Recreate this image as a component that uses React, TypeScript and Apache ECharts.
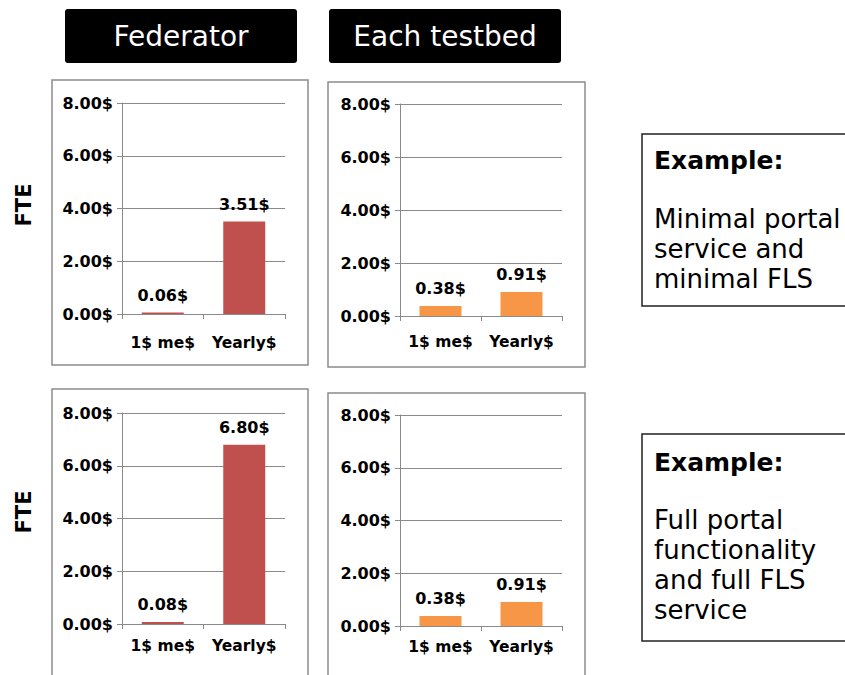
import React, { useEffect, useRef } from "react";
import * as echarts from "echarts";

const categories = ["1$ me$", "Yearly$"];
const federatorMinimal = [0.06, 3.51];
const testbedMinimal = [0.38, 0.91];
const federatorFull = [0.08, 6.8];
const testbedFull = [0.38, 0.91];
const yMin = 0;
const yMax = 8;
const yInterval = 2;
const headers = ["Federator", "Each testbed"];
const example1Lines = ["Minimal portal", "service and", "minimal FLS"];
const example2Lines = ["Full portal", "functionality", "and full FLS", "service"];

const RED = "#C0504D";
const ORANGE = "#F79646";
const GRID = "#8a8a8a";
const FONT = "DejaVu Sans";

export default function App() {
  const ref = useRef<HTMLDivElement>(null);
  useEffect(() => {
    if (!ref.current) return;
    const chart = echarts.init(ref.current, null, { renderer: "svg" });

    const grids = [
      { left: 122, top: 103, width: 163, height: 211 },
      { left: 400, top: 104, width: 162, height: 212 },
      { left: 122, top: 413, width: 163, height: 211 },
      { left: 400, top: 415, width: 162, height: 211 },
    ];
    const xMargins = [21, 18, 14, 13];
    const datasets = [federatorMinimal, testbedMinimal, federatorFull, testbedFull];
    const colors = [RED, ORANGE, RED, ORANGE];

    const labelStyle = {
      fontFamily: FONT,
      fontWeight: "bold" as const,
      fontSize: 15.5,
      color: "#000",
    };

    const xAxis = grids.map((_, i) => ({
      type: "category" as const,
      gridIndex: i,
      data: categories,
      axisLine: { lineStyle: { color: GRID, width: 1 } },
      axisTick: { show: true, length: 5, lineStyle: { color: GRID } },
      axisLabel: { ...labelStyle, margin: xMargins[i], interval: 0, hideOverlap: false },
    }));
    const yAxis = grids.map((_, i) => ({
      type: "value" as const,
      gridIndex: i,
      min: yMin,
      max: yMax,
      interval: yInterval,
      axisLine: { show: true, lineStyle: { color: GRID, width: 1 } },
      axisTick: { show: true, length: 5, lineStyle: { color: GRID } },
      splitLine: { show: true, lineStyle: { color: GRID, width: 1 } },
      axisLabel: {
        ...labelStyle,
        fontSize: 16,
        margin: 9,
        formatter: (v: number) => v.toFixed(2) + "$",
      },
    }));
    const series = datasets.map((d, i) => ({
      type: "bar" as const,
      xAxisIndex: i,
      yAxisIndex: i,
      data: d,
      barWidth: 42,
      itemStyle: { color: colors[i] },
      label: {
        show: true,
        position: "top" as const,
        distance: 9,
        ...labelStyle,
        fontSize: 16,
        formatter: (p: any) => Number(p.value).toFixed(2) + "$",
      },
    }));

    const border = { stroke: "#8c8c8c", lineWidth: 1.5, fill: "none" };
    const graphic: any[] = [];
    const headerX = [65, 329];
    headers.forEach((h, i) => {
      graphic.push({
        type: "rect",
        shape: { x: headerX[i], y: 9, width: 232, height: 54, r: 3 },
        style: { fill: "#000" },
      });
      graphic.push({
        type: "text",
        x: headerX[i] + 116,
        y: 36,
        style: {
          text: h,
          fill: "#fff",
          fontFamily: FONT,
          fontSize: 28,
          align: "center",
          verticalAlign: "middle",
        },
      });
    });
    graphic.push({ type: "rect", shape: { x: 52, y: 80, width: 256, height: 285 }, style: border });
    graphic.push({ type: "rect", shape: { x: 328, y: 82, width: 257, height: 285 }, style: border });
    graphic.push({
      type: "polyline",
      shape: { points: [[52, 680], [52, 389], [308, 389], [308, 680]] },
      style: border,
    });
    graphic.push({
      type: "polyline",
      shape: { points: [[328, 680], [328, 393], [585, 393], [585, 680]] },
      style: border,
    });
    [205, 512].forEach((y) => {
      graphic.push({
        type: "text",
        x: 24,
        y,
        rotation: Math.PI / 2,
        style: {
          text: "FTE",
          fill: "#000",
          fontFamily: FONT,
          fontWeight: "bold",
          fontSize: 21,
          align: "center",
          verticalAlign: "middle",
        },
      });
    });
    const boxes = [
      { top: 134, bottom: 306, titleY: 160, firstLine: 219, lines: example1Lines },
      { top: 434, bottom: 641, titleY: 462, firstLine: 520, lines: example2Lines },
    ];
    boxes.forEach((b) => {
      graphic.push({
        type: "rect",
        shape: { x: 642, y: b.top, width: 220, height: b.bottom - b.top },
        style: { stroke: "#222", lineWidth: 1.5, fill: "#fff" },
        z: 0,
      });
      graphic.push({
        type: "text",
        x: 654,
        y: b.titleY,
        style: {
          text: "Example:",
          fill: "#000",
          fontFamily: FONT,
          fontWeight: "bold",
          fontSize: 25,
          verticalAlign: "middle",
        },
      });
      b.lines.forEach((t, k) => {
        graphic.push({
          type: "text",
          x: 654,
          y: b.firstLine + k * 30,
          style: {
            text: t,
            fill: "#000",
            fontFamily: FONT,
            fontSize: 26,
            verticalAlign: "middle",
          },
        });
      });
    });

    chart.setOption({
      animation: false,
      backgroundColor: "#fff",
      grid: grids,
      xAxis,
      yAxis,
      series,
      graphic,
    });
    return () => chart.dispose();
  }, []);
  return (
    <div
      ref={ref}
      style={{ position: "fixed", left: 0, top: 0, width: 845, height: 675 }}
    />
  );
}
